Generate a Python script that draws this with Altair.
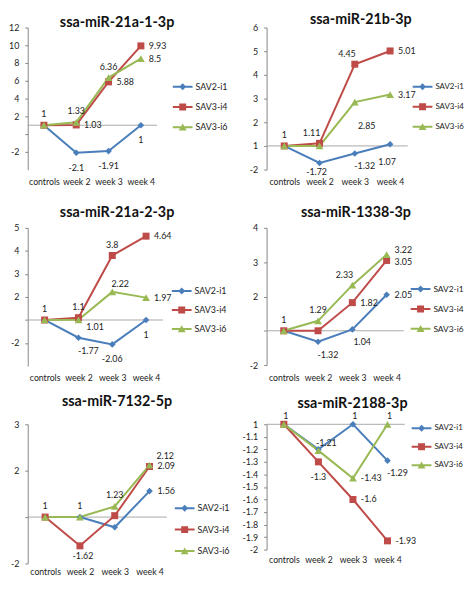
import altair as alt
import pandas as pd

CATEGORIES = ["controls", "week 2", "week 3", "week 4"]
SERIES = ["SAV2-i1", "SAV3-i4", "SAV3-i6"]
COLORS = ["#4A7EBB", "#BE4B48", "#98B954"]

TITLES = ["ssa-miR-21a-1-3p", "ssa-miR-21b-3p", "ssa-miR-21a-2-3p",
          "ssa-miR-1338-3p", "ssa-miR-7132-5p", "ssa-miR-2188-3p"]

# fold-change values (controls, week 2, week 3, week 4)
P1_SAV2_I1 = [1, -2.1, -1.91, 1]
P1_SAV3_I4 = [1, 1.03, 5.88, 9.93]
P1_SAV3_I6 = [1, 1.33, 6.36, 8.5]

P2_SAV2_I1 = [1, -1.72, -1.32, 1.07]
P2_SAV3_I4 = [1, 1.11, 4.45, 5.01]
P2_SAV3_I6 = [1, 1.0, 2.85, 3.17]

P3_SAV2_I1 = [1, -1.77, -2.06, 1]
P3_SAV3_I4 = [1, 1.1, 3.8, 4.64]
P3_SAV3_I6 = [1, 1.01, 2.22, 1.97]

P4_SAV2_I1 = [1, -1.32, 1.04, 2.05]
P4_SAV3_I4 = [1, 1.0, 1.82, 3.05]
P4_SAV3_I6 = [1, 1.29, 2.33, 3.22]

P5_SAV2_I1 = [1, 1, -1.22, 1.56]
P5_SAV3_I4 = [1, -1.62, 1.03, 2.09]
P5_SAV3_I6 = [1, 1, 1.23, 2.12]

P6_SAV2_I1 = [1, -1.2, 1, -1.29]
P6_SAV3_I4 = [1, -1.3, -1.6, -1.93]
P6_SAV3_I6 = [1, -1.21, -1.43, 1]

PANEL_VALUES = [
    [P1_SAV2_I1, P1_SAV3_I4, P1_SAV3_I6],
    [P2_SAV2_I1, P2_SAV3_I4, P2_SAV3_I6],
    [P3_SAV2_I1, P3_SAV3_I4, P3_SAV3_I6],
    [P4_SAV2_I1, P4_SAV3_I4, P4_SAV3_I6],
    [P5_SAV2_I1, P5_SAV3_I4, P5_SAV3_I6],
    [P6_SAV2_I1, P6_SAV3_I4, P6_SAV3_I6],
]

# y-axis tick positions (axis space: the horizontal line is at 0) and their texts
TICKS = [
    [-3, -1, 1, 3, 5, 7, 9, 11],
    [-1, 0, 1, 2, 3, 4, 5],
    [-1, 0, 1, 2, 3, 4],
    [-1, 0, 1, 2, 3],
    [-1, 0, 1, 2],
    [0, -0.1, -0.2, -0.3, -0.4, -0.5, -0.6, -0.7, -0.8, -0.9, -1],
]
TICK_LABELS = [
    ["-2", "", "2", "4", "6", "8", "10", "12"],
    ["-2", "1", "2", "3", "4", "5", "6"],
    ["-2", "", "2", "3", "4", "5"],
    ["-2", "", "2", "3", "4"],
    ["-2", "", "2", "3"],
    ["1", "-1.1", "-1.2", "-1.3", "-1.4", "-1.5", "-1.6", "-1.7", "-1.8", "-1.9", "-2"],
]

# ---- styling / layout (not data) ----
AXIS_MODE = ["linear", "fold", "fold", "fold", "fold", "fold"]
DOMAINS = [[-5, 11], [-1, 5], [-2, 4], [-1, 3], [-1, 2], [-1, 0]]
WIDTHS = [131, 143, 137, 139, 141, 140]
HEIGHTS = [144, 144, 140, 139, 141, 127]
XLABEL_PAD = [8, 8, 8, 9, 4, 6]
TITLE_OFFSET = [-20.5, -18, -10, -10, -3, -13]
TITLE_DX = [25, 24, 22, 21, 20, 17]
LEGEND_POS = [(147, 52), (148, 52), (146, 56), (146, 54), (149, 77), (147, -4)]
LEGEND_ROWPAD = [7.5, 8.3, 6.2, 7.1, 8.7, 6.7]
LEGEND_FONT = [9, 8, 9, 8.5, 9, 8]

# label placement codes per series/point ('' = no label)
LABEL_PLACE = [
    [["", "b", "b", "b"], ["", "r", "r", "r"], ["a", "a", "a", "r"]],
    [["", "bsl", "br", "bl"], ["", "al", "al", "r"], ["a", "", "bfar", "r"]],
    [["", "br", "b", "b"], ["", "a", "a", "r"], ["a", "rb", "ar", "r"]],
    [["", "br", "br", "r"], ["", "", "r", "rd"], ["a", "a", "al", "ra"]],
    [["", "", "", "r"], ["", "bs", "", "r"], ["a", "a", "a", "ra2"]],
    [["", "", "as", "br"], ["", "b", "r", "r"], ["as", "ar", "r", "as"]],
]
PLACE_STYLE = {
    "a": (0, -11, "center"),
    "as": (2, -8, "center"),
    "al": (-8, -10, "center"),
    "ar": (8, -8, "center"),
    "b": (0, 15, "center"),
    "bs": (3, 10, "center"),
    "bsl": (-3, 9, "center"),
    "bl": (-3, 18, "center"),
    "br": (10, 13, "center"),
    "bfar": (12, 24, "center"),
    "r": (8, 0, "left"),
    "rd": (8, 2, "left"),
    "rb": (8, 7, "left"),
    "ra": (8, -5, "left"),
    "ra2": (7, -9, "left"),
}

FONT = "Lato"
TEXT = "#222222"
AXIS_GRAY = "#868686"

LINE_PATH = "M-1.25,-0.125H1.25V0.125H-1.25Z"
LEGEND_SHAPES = [
    LINE_PATH + " M0,-0.44L0.44,0L0,0.44L-0.44,0Z",
    LINE_PATH + " M-0.44,-0.44H0.44V0.44H-0.44Z",
    LINE_PATH + " M0,-0.46L0.5,0.42L-0.5,0.42Z",
]
POINT_SHAPES = ["diamond", "square", "triangle-up"]
POINT_SIZES = [45, 50, 62]


def axis_pos(f, mode):
    if mode == "linear":
        return f - 1
    return f - 1 if f > 0 else f + 1


def make_panel(i):
    rows = []
    for s, series in enumerate(SERIES):
        for c, cat in enumerate(CATEGORIES):
            f = PANEL_VALUES[i][s][c]
            rows.append({
                "series": series,
                "cat": cat,
                "fc": f,
                "pos": axis_pos(f, AXIS_MODE[i]),
                "lab": f"{f:g}",
                "place": LABEL_PLACE[i][s][c],
            })
    df = pd.DataFrame(rows)

    ticks = TICKS[i]
    expr = "''"
    for v, t in reversed(list(zip(ticks, TICK_LABELS[i]))):
        expr = f"(abs(datum.value - ({v})) < 1e-6 ? '{t}' : {expr})"

    x_enc = alt.X("cat:N", sort=CATEGORIES,
                  scale=alt.Scale(type="point", padding=0.5, domain=CATEGORIES),
                  axis=alt.Axis(title=None, domain=False, ticks=False, labelAngle=0,
                                labelPadding=XLABEL_PAD[i], labelFont=FONT,
                                labelFontSize=8.8, labelColor=TEXT, grid=False))
    y_axis = alt.Axis(title=None, values=ticks, labelExpr=expr, grid=False,
                      domainColor=AXIS_GRAY, tickColor=AXIS_GRAY, tickSize=3,
                      labelPadding=6, labelFont=FONT, labelFontSize=9,
                      labelColor=TEXT)
    y_scale = alt.Scale(domain=DOMAINS[i], nice=False, zero=False)
    y_enc = alt.Y("pos:Q", scale=y_scale, axis=y_axis)

    base = alt.Chart(df)
    layers = []

    zero = alt.Chart(pd.DataFrame({"pos": [0]})).mark_rule(
        color="#A8A8A8", strokeWidth=1).encode(y=y_enc)
    layers.append(zero)

    # invisible copy of the points that only carries the legend
    lx, ly = LEGEND_POS[i]
    leg = alt.Legend(title=None, orient="none", legendX=lx, legendY=ly,
                     symbolSize=256, symbolStrokeWidth=0, symbolOffset=2,
                     symbolOpacity=1, labelOffset=5, labelFont=FONT,
                     labelFontSize=LEGEND_FONT[i], labelColor=TEXT,
                     rowPadding=LEGEND_ROWPAD[i], padding=0)
    legend_layer = base.mark_point(filled=True, opacity=0, size=1).encode(
        x=x_enc, y=y_enc,
        fill=alt.Fill("series:N", scale=alt.Scale(domain=SERIES, range=COLORS),
                      legend=leg),
        shape=alt.Shape("series:N",
                        scale=alt.Scale(domain=SERIES, range=LEGEND_SHAPES),
                        legend=leg))
    layers.append(legend_layer)

    for s, series in enumerate(SERIES):
        ln = base.transform_filter(alt.datum.series == series).mark_line(
            strokeWidth=2, color=COLORS[s]).encode(x=x_enc, y=y_enc)
        layers.append(ln)

    for s, series in enumerate(SERIES):
        pts = base.transform_filter(alt.datum.series == series).mark_point(
            filled=True, shape=POINT_SHAPES[s], size=POINT_SIZES[s],
            color=COLORS[s], opacity=1).encode(x=x_enc, y=y_enc)
        layers.append(pts)

    used = sorted({p for srs in LABEL_PLACE[i] for p in srs if p})
    for code in used:
        dx, dy, align = PLACE_STYLE[code]
        txt = base.transform_filter(alt.datum.place == code).mark_text(
            dx=dx, dy=dy, align=align, baseline="middle", font=FONT,
            fontSize=9, color=TEXT).encode(x=x_enc, y=y_enc, text="lab:N")
        layers.append(txt)

    return alt.layer(*layers).properties(
        width=WIDTHS[i], height=HEIGHTS[i],
        title=alt.TitleParams(TITLES[i], font=FONT, fontSize=14.5,
                              fontWeight="bold", color="#111111",
                              anchor="middle", frame="group", baseline="bottom",
                              offset=TITLE_OFFSET[i], dx=TITLE_DX[i]))


panels = [make_panel(i) for i in range(6)]

chart = alt.concat(*panels, columns=2).properties(
    spacing={"row": 59, "column": 101}, bounds="flush", align="none",
    padding=0, background="white"
).resolve_scale(
    x="independent", y="independent", fill="independent", shape="independent"
).configure_view(stroke=None)

chart.save("out.html", embed_options={"renderer": "svg", "actions": False})
